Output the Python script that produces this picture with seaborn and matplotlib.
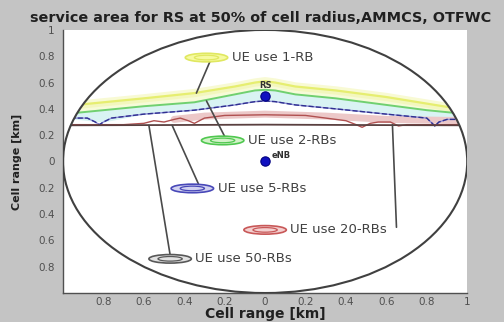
import numpy as np
import pandas as pd
import matplotlib
matplotlib.use("Agg")
import matplotlib.pyplot as plt
import seaborn as sns
from matplotlib.patches import Ellipse

sns.set_theme(style="white")
plt.rcParams['font.family'] = ['DejaVu Sans']

# ---- data ----
title = "service area for RS at 50% of cell radius,AMMCS, OTFWC"
axis_label = "Cell range [km]"

xticks = [-0.8, -0.6, -0.4, -0.2, 0, 0.2, 0.4, 0.6, 0.8, 1]
xtick_labels = ["0.8", "0.6", "0.4", "0.2", "0", "0.2", "0.4", "0.6", "0.8", "1"]
yticks = [1, 0.8, 0.6, 0.4, 0.2, 0, -0.2, -0.4, -0.6, -0.8]
ytick_labels = ["1", "0.8", "0.6", "0.4", "0.2", "0", "0.2", "0.4", "0.6", "0.8"]

smooth_x = [-1, -0.8, -0.6, -0.35, -0.15, -0.05, 0, 0.05, 0.15, 0.35, 0.6, 0.8, 1]
rb1_y = [0.42, 0.45, 0.48, 0.52, 0.57, 0.60, 0.61, 0.60, 0.57, 0.54, 0.49, 0.44, 0.39]
rb2_y = [0.36, 0.39, 0.42, 0.45, 0.51, 0.54, 0.545, 0.54, 0.51, 0.48, 0.43, 0.39, 0.36]

rb5_x = [-1, -0.88, -0.84, -0.82, -0.80, -0.76, -0.6, -0.35, -0.15, -0.05, 0, 0.05,
         0.15, 0.35, 0.6, 0.8, 0.82, 0.84, 0.86, 0.9, 1]
rb5_y = [0.33, 0.33, 0.30, 0.28, 0.30, 0.33, 0.36, 0.39, 0.43, 0.455, 0.46, 0.455,
         0.43, 0.40, 0.36, 0.33, 0.30, 0.27, 0.30, 0.32, 0.32]

rb20_x = [-1, -0.7, -0.6, -0.55, -0.5, -0.45, -0.42, -0.38, -0.35, -0.3, -0.2, 0, 0.2,
          0.3, 0.4, 0.45, 0.48, 0.52, 0.56, 0.62, 0.66, 0.7, 0.8, 1]
rb20_y = [0.28, 0.28, 0.29, 0.31, 0.30, 0.32, 0.33, 0.31, 0.29, 0.33, 0.35, 0.355, 0.35,
          0.33, 0.31, 0.28, 0.26, 0.29, 0.30, 0.30, 0.27, 0.28, 0.28, 0.28]

rb50_x = [-1, -0.5, 0, 0.5, 1]
rb50_y = [0.275, 0.277, 0.28, 0.277, 0.275]

band_x = [-0.45, -0.3, 0, 0.3, 0.6, 1]
band_y = [0.32, 0.345, 0.36, 0.345, 0.32, 0.31]

stations = ["RS", "eNB"]
station_x = [0, 0]
station_y = [0.5, 0]

labels = ["UE use 1-RB", "UE use 2-RBs", "UE use 5-RBs", "UE use 20-RBs", "UE use 50-RBs"]
label_colors = ["#e0e860", "#50c850", "#4848b8", "#c85858", "#585858"]
label_fill = ["#f6faa0", "#d2f2c8", "#d2d2f0", "#f4d0d0", "#e2e2e2"]
marker_x = [-0.29, -0.21, -0.36, 0.0, -0.47]
marker_y = [0.79, 0.16, -0.205, -0.52, -0.74]
leader_from = [(-0.27, 0.77), (-0.20, 0.19), (-0.33, -0.17), (0.65, -0.50), (-0.47, -0.71)]
leader_to = [(-0.34, 0.52), (-0.29, 0.46), (-0.46, 0.275), (0.63, 0.28), (-0.575, 0.275)]

# ---- figure ----
fig = plt.figure(figsize=(5.04, 3.22), dpi=100, facecolor="#c4c4c4")
ax = fig.add_axes([0.125, 0.090, 0.802, 0.817])
ax.set_facecolor("white")
ax.set_xlim(-1, 1)
ax.set_ylim(-1, 1)

clip = Ellipse((0, 0), 2, 2, transform=ax.transData)

def clipit(artist):
    artist.set_clip_path(clip)

# fills
f1 = ax.fill_between(smooth_x, rb2_y, rb1_y, color="#f7fbd8", lw=0, zorder=1)
clipit(f1)
rb5_on_smooth = np.interp(smooth_x, rb5_x, rb5_y)
f2 = ax.fill_between(smooth_x, rb5_on_smooth, rb2_y, color="#d9f3f3", lw=0, zorder=1)
clipit(f2)

def draw(x, y, **kw):
    n = len(ax.lines)
    sns.lineplot(x=x, y=y, ax=ax, sort=False, estimator=None, **kw)
    for ln in ax.lines[n:]:
        clipit(ln)

draw(smooth_x, rb1_y, color="#f0f4a0", lw=6, alpha=0.45, zorder=2)
draw(smooth_x, rb1_y, color="#e6ee70", lw=1.6, zorder=3)
draw(smooth_x, rb2_y, color="#70d070", lw=1.4, zorder=3)
draw(band_x, band_y, color="#ecc8c8", lw=5, zorder=2)
draw(rb5_x, rb5_y, color="#9090d8", lw=1.0, zorder=3)
draw(rb5_x, rb5_y, color="#303090", lw=1.0, linestyle="--", zorder=4)
draw(rb20_x, rb20_y, color="#b05050", lw=1.0, zorder=3)
draw(rb50_x, rb50_y, color="#5a4040", lw=1.3, zorder=4)

# cell boundary circle
ax.add_patch(Ellipse((0, 0), 2, 2, fill=False, ec="#404040", lw=1.5, zorder=5))

# stations
sns.scatterplot(x=station_x, y=station_y, ax=ax, s=45, color="#1010c0",
                edgecolor="#000080", linewidth=0.8, marker="o", zorder=6)
ax.text(station_x[0], station_y[0] + 0.04, stations[0], fontsize=6, fontweight="bold",
        color="#303030", ha="center", va="bottom", zorder=7)
ax.text(station_x[1] + 0.03, station_y[1] + 0.015, stations[1], fontsize=6, fontweight="bold",
        color="#303030", ha="left", va="bottom", zorder=7)

# annotations
for i, lab in enumerate(labels):
    (x1, y1), (x2, y2) = leader_from[i], leader_to[i]
    ax.plot([x1, x2], [y1, y2], color="#4a4a4a", lw=1.2, zorder=5)
    ax.add_patch(Ellipse((marker_x[i], marker_y[i]), 0.21, 0.065, fc=label_fill[i],
                         ec=label_colors[i], lw=1.2, zorder=6))
    ax.add_patch(Ellipse((marker_x[i], marker_y[i]), 0.12, 0.035, fill=False,
                         ec=label_colors[i], lw=0.9, zorder=6))
    ax.text(marker_x[i] + 0.125, marker_y[i], lab, fontsize=9.5, color="#404040",
            ha="left", va="center", zorder=7)

# axes styling
for s in ["top", "right"]:
    ax.spines[s].set_visible(False)
for s in ["left", "bottom"]:
    ax.spines[s].set_color("#505050")
    ax.spines[s].set_linewidth(1.0)
ax.set_xticks(xticks)
ax.set_xticklabels(xtick_labels)
ax.set_yticks(yticks)
ax.set_yticklabels(ytick_labels)
ax.tick_params(axis="y", direction="in", length=3, width=0.8, colors="#505050",
               labelsize=7.5, labelcolor="#505050", pad=6)
ax.tick_params(axis="x", direction="in", length=3, width=0.8, colors="#505050",
               labelsize=7.5, labelcolor="#505050", pad=3)
ax.set_xlabel(axis_label, fontsize=10, fontweight="bold", color="#202020", labelpad=0)
ax.set_ylabel(axis_label, fontsize=8, fontweight="bold", color="#202020", labelpad=12)
ax.set_title(title, fontsize=10.4, fontweight="bold", color="#202020", pad=6, x=0.49)

fig.savefig("out.png", dpi=100, facecolor=fig.get_facecolor())
